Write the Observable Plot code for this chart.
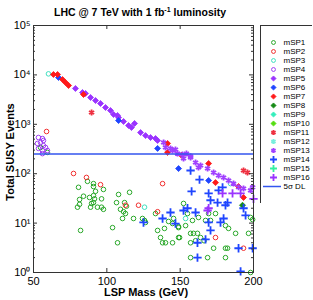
<!DOCTYPE html>
<html><head><meta charset="utf-8">
<script src="https://cdn.jsdelivr.net/npm/d3@7"></script>
<script src="https://cdn.jsdelivr.net/npm/@observablehq/plot@0.6"></script>
<style>
body{margin:0;background:#fff;font-family:"Liberation Sans",Arial,sans-serif;}
#wrap{position:relative;width:313px;height:300px;overflow:hidden;background:#fff;}
#wrap svg{position:absolute;}
#title{position:absolute;left:0;width:280px;top:6px;text-align:center;font-weight:bold;font-size:10.5px;line-height:12px;color:#000;}
#title sup{font-size:7px;vertical-align:4px;line-height:0;}
#ylab{position:absolute;left:10px;top:152px;transform:translate(-50%,-50%) rotate(-90deg);white-space:nowrap;font-weight:bold;font-size:11px;}
#xlab{position:absolute;left:146px;top:292px;transform:translate(-50%,-50%);white-space:nowrap;font-weight:bold;font-size:11px;}
</style></head>
<body><div id="wrap">
<div id="title">LHC @ 7 TeV with 1 fb<sup>-1</sup> luminosity</div>
<div id="ylab">Total SUSY Events</div>
<div id="xlab">LSP Mass (GeV)</div>
</div>
<script>
// [LSP mass (GeV), total SUSY events]
const mSP1 = [[54.8,340],[59.5,270],
 [80.7,53],[86.8,70],[90.9,63],[90.9,55],[97.7,48],[92.3,44],[84.1,35],[81.4,30],[81.4,24],[80,21],[88.2,33],[90.9,36],[91.6,31],[90.9,26],[89.6,25],[96.4,31],[88.9,21],[93.6,21],[96.4,21],[97.7,19],[82.1,7.1],
 [108,38],[115.5,42],[106.6,26],[112.1,26],[113.4,22],[109.3,19],[111.4,17],[112.7,15.6],[103.9,8.1],[110.7,12.4],[118.2,12.4],[124.3,12.4],[125.7,11.3],[126.4,10.3],[107.3,4.0],[133.2,15.6],[134.6,7.1],[139.3,7.8],[142.1,10.8],[144.8,9.8],[145.5,12.4],[148.9,8.1],[136.6,5.1],[138,4.0],[140,4.0],[144.8,4.0],[148.9,5.1],
 [152.3,25],[155,15.6],[158.4,11.3],[162.5,13],[167.3,11.3],[169.4,15.6],[159.1,6.2],[160.5,4.4],[166.3,4.4],[157.1,2.0],[168.7,2.0],[172.8,3.1],[180.9,3.1],[182.3,3.1],[148.9,8.5],[153.7,8.9],[149.6,5.1],[157.1,6.2],[157.1,4.0],[161.8,6.2],[163.9,5.1],[174.1,15.6],[170.7,11.3],[180.9,8.9],[183,7.8],[187.8,6.2],[196.6,6.2],[180.9,2.0],[198,1.0],[198,13],[199.4,11.8]];
const mSP2 = [[58.9,715],[77.3,101],[86.1,84],[95.7,60],[138,63],[112.7,23],[121.6,23],[134.6,17],[174.1,5.1],[193.2,3.1]];
const mSP3 = [[60.2,10500],[125.7,21],[153.7,12.4],[184.4,63]];
const mSP4 = [[53.4,540],[56.1,515],[54.8,430],[56.8,470],[52.7,410],[56.8,370],[58.2,340],[56.1,295],[56.1,255],[59.5,295],[53.4,325]];
const mSP5 = [[78.6,5310],[83.4,4400],[85.5,4200],[88.9,3490],[92.3,3030],[95.7,2640],[99.1,2190],[102.5,1900],[104.6,1580],[107.3,1510],[108,1370],[111.4,1140],[114.8,945],[116.8,860],[118.9,1040],[123,680],[126.4,590],[129.8,540],[133.2,515],[134.6,470]];
const mSP6 = [[67.1,8850],[108,1190],[134.6,325],[148.9,127],[169.4,73]];
const mSP7 = [[63.6,10190],[66.4,10190],[69.8,8070],[71.8,7020],[73.9,6100],[84.1,4010],[141.4,410],[141.4,270],[150.9,235],[169.4,161],[174.1,66],[189.8,55],[193.2,33]];
const mSP8 = [[192.5,23]];
const mSP9 = [];
const mSP10 = [];
const mSP11 = [[89.6,1730],[193.2,116],[195.9,106]];
const mSP12 = [];
const mSP13 = [[138.7,430],[140,340],[143.4,325],[144.8,295],[146.8,310],[148.2,255],[151.6,245],[152.3,203],[154.3,255],[157.1,213],[157.1,225],[160.5,169],[162.5,134],[163.9,147],[168.7,127],[172.8,106],[176.2,92],[179.6,84],[183,73],[186.4,63],[189.8,53],[193.2,50],[198,46],[199.4,53]];
const mSP14 = [[157.1,116],[163.2,76],[178.9,53],[176.2,46],[157.8,44],[169.4,40],[175.5,26],[182.3,26],[180.9,23],[170.7,29],[155,20],[160.5,16.4],[193.2,20],[152.3,18],[146.8,9.8],[169.4,10.3],[177.5,10.3],[170.7,7.1],[179.6,12.4],[194.6,14.3],[161.8,4.0],[167.3,4.7],[189.8,3.1],[199.4,3.1],[161.8,2.0],[191.2,1.05],[143.4,16.4],[138,12.4],[125,10.3]];
const mSP15 = [];
const mSP16 = [[185.7,40],[191.2,40],[200,31],[178.9,40],[169.4,20],[168.7,18]];
const discoveryLimit = 250;   // 5 sigma discovery limit
const xTicks = [50,100,150,200];
const yTicks = [1,10,100,1000,10000,100000];
const supers = ["⁰","¹","²","³","⁴","⁵"];

const seriesNames = ["mSP1","mSP2","mSP3","mSP4","mSP5","mSP6","mSP7","mSP8","mSP9","mSP10","mSP11","mSP12","mSP13","mSP14","mSP15","mSP16"];
const seriesData = [mSP1,mSP2,mSP3,mSP4,mSP5,mSP6,mSP7,mSP8,mSP9,mSP10,mSP11,mSP12,mSP13,mSP14,mSP15,mSP16];
const styles = [
 {c:"#2aa82a",s:"circle",f:false},{c:"#f23030",s:"circle",f:false},{c:"#3fe0c0",s:"circle",f:false},{c:"#a040f5",s:"circle",f:false},
 {c:"#9a33ff",s:"diamond2",f:true},{c:"#1f45ff",s:"diamond2",f:true},{c:"#ff1a1a",s:"diamond2",f:true},{c:"#168a16",s:"diamond2",f:true},
 {c:"#33eebb",s:"diamond2",f:true},{c:"#55dd11",s:"diamond2",f:true},
 {c:"#ee3040",s:"asterisk",f:false},{c:"#77eedd",s:"asterisk",f:false},{c:"#a040ff",s:"asterisk",f:false},
 {c:"#1f45ff",s:"plus",f:false},{c:"#33f0a0",s:"plus",f:false},{c:"#9a33ff",s:"plus",f:false}
];
const lineColor = "#3355ee";

function dotOpts(st, extra, scale){
  const k = scale || 1;
  const o = {symbol: st.s};
  if (st.f) { o.fill = st.c; o.stroke = st.c; o.strokeWidth = 0.8; o.r = 2.7 * k; }
  else if (st.s === "circle") { o.fill = "none"; o.stroke = st.c; o.strokeWidth = 1; o.r = 2.3 * k; }
  else { o.fill = "none"; o.stroke = st.c; o.strokeWidth = 1.8; o.r = 2.8 * k; }
  return Object.assign(o, extra);
}

const minors = [];
for (let e = 0; e < 5; e++) for (let m = 2; m <= 9; m++) minors.push(m * 10 ** e);

const W = 313, H = 300, ML = 33, MR = 60, MT = 25, MB = 28;
const PW = W - ML - MR, PH = H - MT - MB;

const marks = [];
seriesData.forEach((data, i) => {
  if (data.length) marks.push(Plot.dot(data, dotOpts(styles[i], {x: d => d[0], y: d => d[1]})));
});
marks.push(
  Plot.ruleY([discoveryLimit], {stroke: lineColor, strokeWidth: 1.5}),
  Plot.tickX(xTicks, {x: d => d, insetTop: PH - 4, stroke: "#333"}),
  Plot.tickX(xTicks, {x: d => d, insetBottom: PH - 4, stroke: "#333"}),
  Plot.tickY(yTicks, {y: d => d, insetRight: PW - 4, stroke: "#333"}),
  Plot.tickY(yTicks, {y: d => d, insetLeft: PW - 4, stroke: "#333"}),
  Plot.tickY(minors, {y: d => d, insetRight: PW - 2, stroke: "#333"}),
  Plot.tickY(minors, {y: d => d, insetLeft: PW - 2, stroke: "#333"}),
  Plot.frame({stroke: "#333"}),
  Plot.axisX({ticks: xTicks, tickSize: 0, tickPadding: 5, tickFormat: d => String(d), label: null}),
  Plot.axisY({ticks: yTicks, tickSize: 0, tickPadding: 3, tickFormat: d => "10" + supers[Math.round(Math.log10(d))], label: null})
);

const chart = Plot.plot({
  width: W, height: H, marginLeft: ML, marginRight: MR, marginTop: MT, marginBottom: MB,
  style: {fontSize: "11px", fontFamily: "'Liberation Sans', Arial, sans-serif", background: "transparent", color: "#000"},
  x: {domain: [50, 200]},
  y: {type: "log", domain: [1, 100000]},
  marks
});
chart.style.left = "0px"; chart.style.top = "0px";
const wrap = document.getElementById("wrap");
wrap.insertBefore(chart, wrap.firstChild);

// legend
const legendLabels = seriesNames.concat(["5σ DL"]);
const legMarks = [Plot.frame({stroke: "#333"})];
seriesNames.forEach((n, i) => {
  legMarks.push(Plot.dot([n], dotOpts(styles[i], {y: d => d, frameAnchor: "left", dx: 13}, 0.85)));
});
legMarks.push(
  Plot.tickY(["5σ DL"], {y: d => d, insetLeft: 3, insetRight: 31, stroke: lineColor, strokeWidth: 1.5}),
  Plot.text(legendLabels, {y: d => d, text: d => d, frameAnchor: "left", dx: 23, textAnchor: "start", fontSize: 8})
);
const legend = Plot.plot({
  width: 52, height: 178, margin: 0,
  style: {fontFamily: "'Liberation Sans', Arial, sans-serif", background: "#fff", color: "#000"},
  y: {type: "point", domain: legendLabels, range: [6, 171], axis: null},
  marks: legMarks
});
legend.style.left = "260px"; legend.style.top = "25px";
wrap.appendChild(legend);
</script>
</body></html>
